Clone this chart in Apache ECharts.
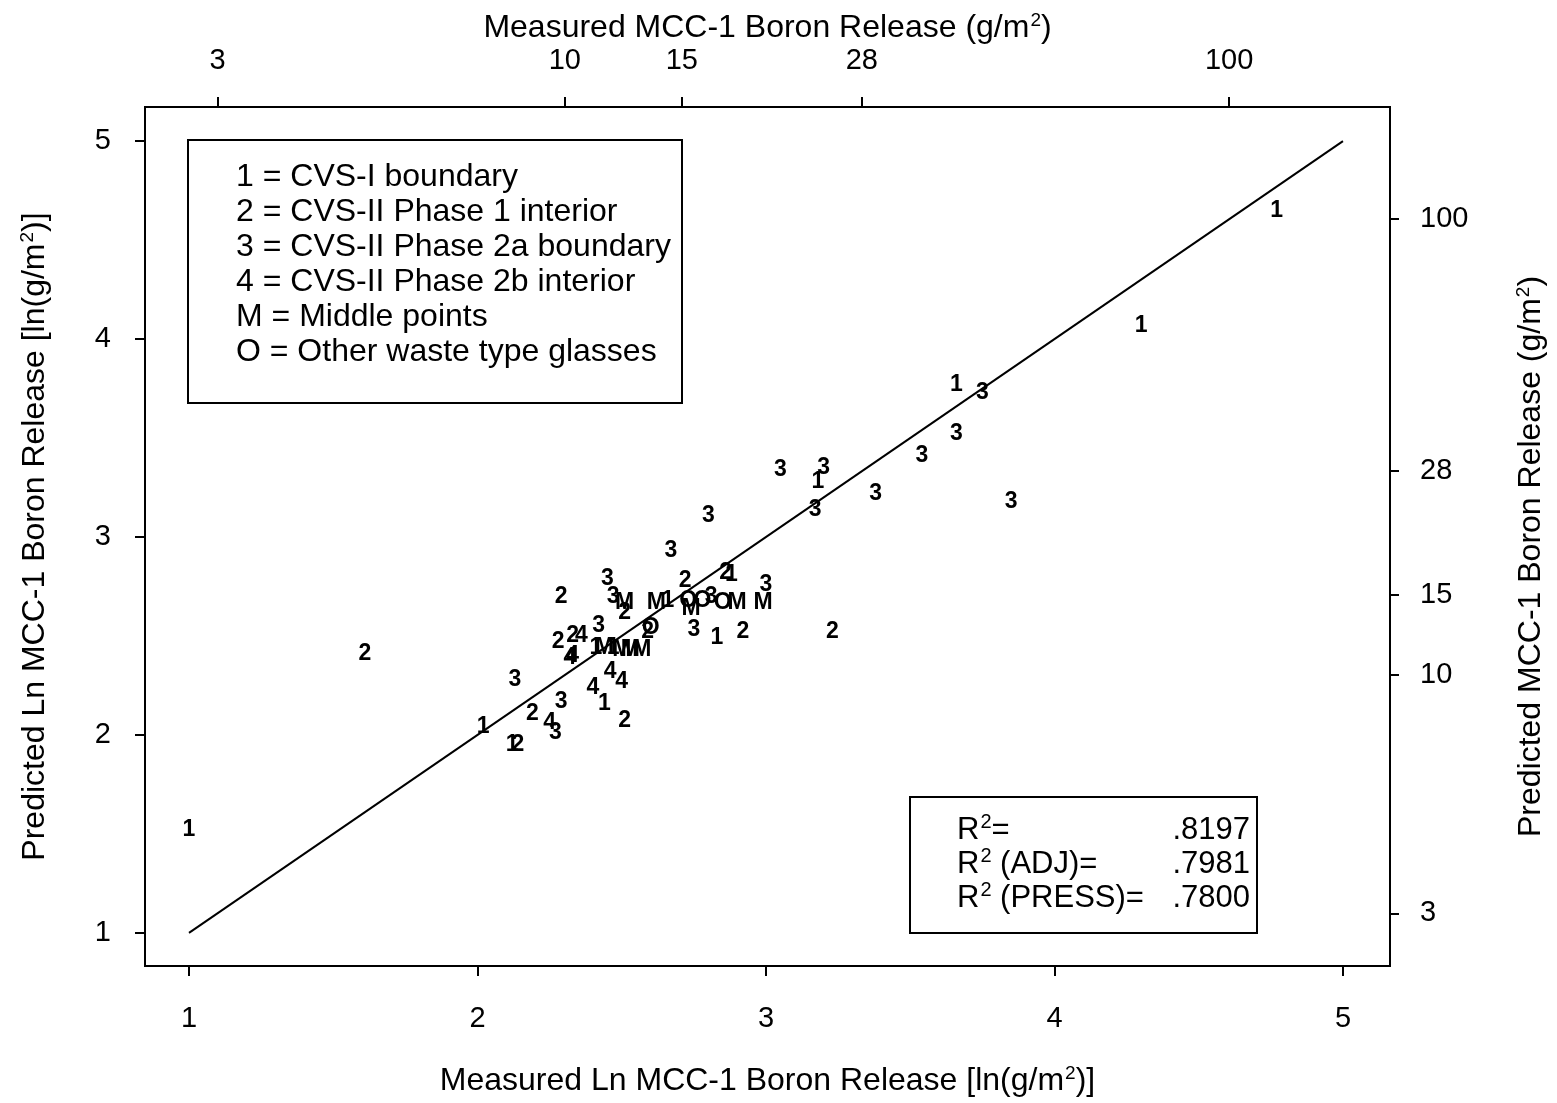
<!DOCTYPE html>
<html>
<head>
<meta charset="utf-8">
<title>MCC-1 Boron Release: Predicted vs Measured</title>
<script src="https://cdn.jsdelivr.net/npm/echarts@6/dist/echarts.min.js"></script>
<style>
  html, body { margin: 0; padding: 0; background: #fff; }
  #chart { width: 1557px; height: 1103px; }
</style>
</head>
<body>
<div id="chart"></div>
<script>
// Measured vs predicted ln(boron release), one list of [measured, predicted] per glass group
const group1 = [[1.00, 1.52], [4.77, 4.65], [4.30, 4.07], [3.66, 3.77], [3.18, 3.28], [2.83, 2.49],
  [2.44, 2.16], [2.02, 2.04], [2.12, 1.95], [2.88, 2.81], [2.66, 2.68], [2.41, 2.44], [2.47, 2.44]];
const group2 = [[1.61, 2.41], [2.29, 2.70], [2.72, 2.78], [2.86, 2.82], [2.51, 2.62], [2.92, 2.52],
  [3.23, 2.52], [2.28, 2.47], [2.33, 2.50], [2.59, 2.52], [2.51, 2.07], [2.19, 2.11], [2.14, 1.95]];
const group3 = [[3.75, 3.73], [3.66, 3.52], [3.54, 3.41], [3.05, 3.34], [3.20, 3.35], [3.38, 3.22],
  [3.85, 3.18], [3.17, 3.14], [2.80, 3.11], [2.67, 2.93], [2.45, 2.79], [2.47, 2.70], [2.81, 2.70],
  [3.00, 2.76], [2.75, 2.53], [2.42, 2.55], [2.13, 2.28], [2.29, 2.17], [2.27, 2.01]];
const group4 = [[2.36, 2.50], [2.32, 2.39], [2.33, 2.40], [2.40, 2.24], [2.46, 2.32], [2.50, 2.27],
  [2.25, 2.06]];
const groupM = [[2.51, 2.67], [2.62, 2.67], [2.74, 2.64], [2.90, 2.67], [2.99, 2.67], [2.44, 2.44],
  [2.50, 2.43], [2.53, 2.43], [2.57, 2.43]];
const groupO = [[2.73, 2.68], [2.78, 2.68], [2.85, 2.67], [2.60, 2.54]];

// Plotting characters and their legend descriptions
const groupChars = ['1', '2', '3', '4', 'M', 'O'];
const groupNames = ['CVS-I boundary', 'CVS-II Phase 1 interior', 'CVS-II Phase 2a boundary',
  'CVS-II Phase 2b interior', 'Middle points', 'Other waste type glasses'];

// y = x reference line
const fitLine = [[1, 1], [5, 5]];

// Tick values
const lnTicks = [1, 2, 3, 4, 5];
const gramTicks = [3, 10, 15, 28, 100];

// Fit statistics
const statLabels = ['=', ' (ADJ)=', ' (PRESS)='];
const statValues = ['.8197', '.7981', '.7800'];

const FONT = '"Liberation Sans", Arial, Helvetica, sans-serif';
const X_MIN = 0.8475, X_MAX = 5.163;
const Y_MIN = 0.833, Y_MAX = 5.172;

const chart = echarts.init(document.getElementById('chart'), null, { renderer: 'canvas' });

const groups = [group1, group2, group3, group4, groupM, groupO];

const titleRich = {
  t: { fontFamily: FONT, fontSize: 32, color: '#000' },
  sup: { fontFamily: FONT, fontSize: 19, color: '#000', verticalAlign: 'top', padding: [0, 0, 16, 1] }
};

function axisCommon(extra) {
  return Object.assign({
    type: 'value',
    splitLine: { show: false },
    axisLine: { show: true, lineStyle: { color: '#000', width: 2 } },
    nameLocation: 'middle',
    nameMoveOverlap: false,
    nameTextStyle: { rich: titleRich }
  }, extra);
}

const tickLabel = { fontFamily: FONT, fontSize: 29, color: '#000' };
const tickStyle = { color: '#000', width: 2 };

// Each point is drawn as its group's plotting character, centred on the data position
function charRenderer(ch) {
  return function (params, api) {
    const p = api.coord([api.value(0), api.value(1)]);
    return {
      type: 'text',
      x: p[0],
      y: p[1],
      style: {
        text: ch,
        font: 'bold 23px ' + FONT,
        fill: '#000',
        align: 'center',
        verticalAlign: 'middle'
      }
    };
  };
}

const option = {
  backgroundColor: '#fff',
  animation: false,
  grid: {
    left: 145, right: 167, top: 107, bottom: 137,
    show: true, borderColor: '#000', borderWidth: 2, backgroundColor: 'transparent'
  },
  xAxis: [
    axisCommon({
      position: 'bottom', min: X_MIN, max: X_MAX,
      axisTick: { show: true, length: 10, customValues: lnTicks, lineStyle: tickStyle },
      axisLabel: Object.assign({ customValues: lnTicks, margin: 38 }, tickLabel),
      name: '{t|Measured Ln MCC-1 Boron Release [ln(g/m}{sup|2}{t|)]}',
      nameGap: 98
    }),
    axisCommon({
      position: 'top', min: X_MIN, max: X_MAX,
      axisTick: { show: true, length: 10, customValues: gramTicks.map(Math.log), lineStyle: tickStyle },
      axisLabel: Object.assign({
        customValues: gramTicks.map(Math.log), margin: 32,
        formatter: v => String(Math.round(Math.exp(v)))
      }, tickLabel),
      name: '{t|Measured MCC-1 Boron Release (g/m}{sup|2}{t|)}',
      nameGap: 61
    })
  ],
  yAxis: [
    axisCommon({
      position: 'left', min: Y_MIN, max: Y_MAX,
      axisTick: { show: true, length: 10, customValues: lnTicks, lineStyle: tickStyle },
      axisLabel: Object.assign({ customValues: lnTicks, margin: 34 }, tickLabel),
      name: '{t|Predicted Ln MCC-1 Boron Release [ln(g/m}{sup|2}{t|)]}',
      nameGap: 92
    }),
    axisCommon({
      position: 'right', min: Y_MIN, max: Y_MAX,
      axisTick: { show: true, length: 9, customValues: gramTicks.map(Math.log), lineStyle: tickStyle },
      axisLabel: Object.assign({
        customValues: gramTicks.map(Math.log), margin: 30,
        formatter: v => String(Math.round(Math.exp(v)))
      }, tickLabel),
      name: '{t|Predicted MCC-1 Boron Release (g/m}{sup|2}{t|)}',
      nameGap: 124,
      nameRotate: 90,
      nameTextStyle: { rich: titleRich, padding: [0, 40, 0, 0] }
    })
  ],
  series: [
    {
      type: 'line',
      data: fitLine,
      symbol: 'none',
      silent: true,
      lineStyle: { color: '#000', width: 2 },
      z: 1
    }
  ].concat(groups.map((pts, i) => ({
    type: 'custom',
    name: groupNames[i],
    data: pts,
    encode: { x: 0, y: 1 },
    renderItem: charRenderer(groupChars[i]),
    silent: true,
    z: 3
  }))),
  graphic: [
    // legend panel
    {
      type: 'rect',
      shape: { x: 188, y: 140, width: 494, height: 263 },
      style: { fill: '#fff', stroke: '#000', lineWidth: 2 },
      z: 10
    }
  ].concat(groupChars.map((c, i) => ({
    type: 'text',
    x: 236, y: 177 + i * 35,
    style: {
      text: c + ' = ' + groupNames[i],
      fontFamily: FONT, fontSize: 32, fill: '#000',
      verticalAlign: 'middle'
    },
    z: 11
  }))).concat([
    // fit statistics panel
    {
      type: 'rect',
      shape: { x: 910, y: 797, width: 347, height: 136 },
      style: { fill: '#fff', stroke: '#000', lineWidth: 2 },
      z: 10
    }
  ]).concat(statLabels.map((s, i) => ({
    type: 'text',
    x: 957, y: 830 + i * 34,
    style: {
      text: '{t|R}{sup|2}{t|' + s + '}',
      rich: {
        t: { fontFamily: FONT, fontSize: 31, fill: '#000' },
        sup: { fontFamily: FONT, fontSize: 20, fill: '#000', verticalAlign: 'top', padding: [0, 0, 16, 1] }
      },
      verticalAlign: 'middle'
    },
    z: 11
  }))).concat(statValues.map((v, i) => ({
    type: 'text',
    x: 1250, y: 830 + i * 34,
    style: {
      text: v, fontFamily: FONT, fontSize: 31, fill: '#000',
      align: 'right', verticalAlign: 'middle'
    },
    z: 11
  })))
};

chart.setOption(option);
</script>
</body>
</html>
